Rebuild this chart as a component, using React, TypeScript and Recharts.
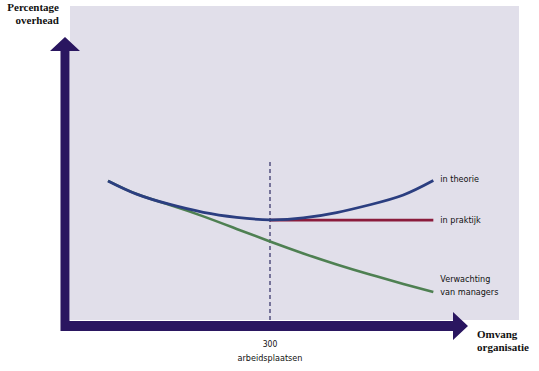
import React from "react";
import { LineChart, Line, XAxis, YAxis, ReferenceLine, ReferenceArea } from "recharts";

// Omvang organisatie (arbeidsplaatsen) – x positions of sampled points
const sizeTheory = [57, 100, 150, 200, 250, 300, 350, 400, 450, 500, 545];
const overheadTheory = [44.3, 40.1, 36.8, 34.3, 32.7, 31.9, 32.5, 34.2, 36.7, 39.8, 44.4];

const sizeManagers = [57, 100, 150, 200, 250, 300, 350, 400, 450, 500, 545];
const overheadManagers = [44.3, 40.1, 36.6, 33.0, 29.0, 25.0, 21.2, 17.7, 14.5, 11.5, 8.9];

const sizePractice = [300, 545];
const overheadPractice = [31.8, 31.8];

const xTicks = [300];
const xTickLabels = ["300", "arbeidsplaatsen"];
const yTitle = ["Percentage", "overhead"];
const xTitle = ["Omvang", "organisatie"];
const seriesLabels = {
  theory: ["in theorie"],
  practice: ["in praktijk"],
  managers: ["Verwachting", "van managers"],
};

const toRows = (xs: number[], ys: number[]) => xs.map((x, i) => ({ x, y: ys[i] }));
const theoryData = toRows(sizeTheory, overheadTheory);
const managersData = toRows(sizeManagers, overheadManagers);
const practiceData = toRows(sizePractice, overheadPractice);

const AXIS = "#2a1660";
const LABEL_FONT = "'Liberation Sans Narrow', 'DejaVu Sans Condensed', 'Noto Sans', sans-serif";
const TITLE_FONT = "'Liberation Serif', 'DejaVu Serif', serif";

const endLabel = (lines: string[], count: number, dyFirst: number) => (props: any) => {
  const { x, y, index } = props;
  if (index !== count - 1) return <g />;
  return (
    <text x={x + 7} y={y + dyFirst} fontFamily={LABEL_FONT} fontSize={9} fill="#111">
      {lines.map((l, i) => (
        <tspan key={i} x={x + 7} dy={i === 0 ? 0 : 13}>
          {l}
        </tspan>
      ))}
    </text>
  );
};

const VerticalArrow = (props: any) => {
  const { x1, y1, y2 } = props;
  const x = x1;
  const head = 14;
  const hw = 15;
  const bw = 4.5;
  const pts = [
    [x - bw, y1],
    [x - bw, y2 + head],
    [x - hw, y2 + head],
    [x, y2],
    [x + hw, y2 + head],
    [x + bw, y2 + head],
    [x + bw, y1],
  ]
    .map((p) => p.join(","))
    .join(" ");
  return (
    <g>
      <polygon points={pts} fill={AXIS} />
      <text x={x - 6} y={y2 - 26} textAnchor="end" fontFamily={TITLE_FONT} fontWeight="bold" fontSize={11} fill="#111">
        {yTitle[0]}
      </text>
      <text x={x - 6} y={y2 - 13.5} textAnchor="end" fontFamily={TITLE_FONT} fontWeight="bold" fontSize={11} fill="#111">
        {yTitle[1]}
      </text>
    </g>
  );
};

const HorizontalArrow = (props: any) => {
  const { x1, x2, y1 } = props;
  const y = y1;
  const head = 15;
  const hh = 14;
  const bw = 5;
  const pts = [
    [x1, y - bw],
    [x2 - head, y - bw],
    [x2 - head, y - hh],
    [x2, y],
    [x2 - head, y + hh],
    [x2 - head, y + bw],
    [x1, y + bw],
  ]
    .map((p) => p.join(","))
    .join(" ");
  return (
    <g>
      <polygon points={pts} fill={AXIS} />
      <text x={x2 + 9} y={y + 12} fontFamily={TITLE_FONT} fontWeight="bold" fontSize={11} fill="#111">
        {xTitle[0]}
      </text>
      <text x={x2 + 9} y={y + 25} fontFamily={TITLE_FONT} fontWeight="bold" fontSize={11} fill="#111">
        {xTitle[1]}
      </text>
    </g>
  );
};

const XTick = (props: any) => {
  const { x, y } = props;
  return (
    <g>
      <text x={x} y={y + 27} textAnchor="middle" fontFamily={LABEL_FONT} fontSize={8.5} fill="#111">
        {xTickLabels[0]}
      </text>
      <text x={x} y={y + 41} textAnchor="middle" fontFamily={LABEL_FONT} fontSize={9} fill="#111">
        {xTickLabels[1]}
      </text>
    </g>
  );
};

export default function App() {
  return (
    <div style={{ position: "absolute", left: 0, top: 0, width: 539, height: 371, background: "#fff" }}>
      <LineChart width={539} height={371} margin={{ top: 6, right: 20, bottom: 11, left: 70 }}>
        <XAxis
          type="number"
          dataKey="x"
          domain={[0, 673.5]}
          ticks={xTicks}
          height={40}
          axisLine={false}
          tickLine={false}
          tickSize={0}
          tickMargin={0}
          tick={<XTick />}
          allowDataOverflow
        />
        <YAxis type="number" dataKey="y" domain={[0, 100]} hide allowDataOverflow />
        <ReferenceArea x1={0} x2={673.5} y1={0} y2={100} fill="#e1dfea" fillOpacity={1} stroke="none" ifOverflow="visible" />
        <ReferenceLine
          segment={[
            { x: 300, y: 50.3 },
            { x: 300, y: 0 },
          ]}
          stroke="#3c3a6e"
          strokeWidth={1.3}
          strokeDasharray="4 3"
          ifOverflow="visible"
        />
        <Line
          data={managersData}
          dataKey="y"
          type="natural"
          stroke="#4e8052"
          strokeWidth={2.6}
          dot={false}
          isAnimationActive={false}
          label={endLabel(seriesLabels.managers, managersData.length, -10)}
        />
        <Line
          data={practiceData}
          dataKey="y"
          type="linear"
          stroke="#8b1c3c"
          strokeWidth={2.6}
          dot={false}
          isAnimationActive={false}
          label={endLabel(seriesLabels.practice, practiceData.length, 3)}
        />
        <Line
          data={theoryData}
          dataKey="y"
          type="natural"
          stroke="#2b3e80"
          strokeWidth={2.8}
          dot={false}
          isAnimationActive={false}
          label={endLabel(seriesLabels.theory, theoryData.length, 1)}
        />
        <ReferenceLine
          segment={[
            { x: -7.5, y: -3.5 },
            { x: -7.5, y: 90.1 },
          ]}
          ifOverflow="visible"
          shape={<VerticalArrow />}
        />
        <ReferenceLine
          segment={[
            { x: -13.5, y: -1.9 },
            { x: 597, y: -1.9 },
          ]}
          ifOverflow="visible"
          shape={<HorizontalArrow />}
        />
      </LineChart>
    </div>
  );
}
